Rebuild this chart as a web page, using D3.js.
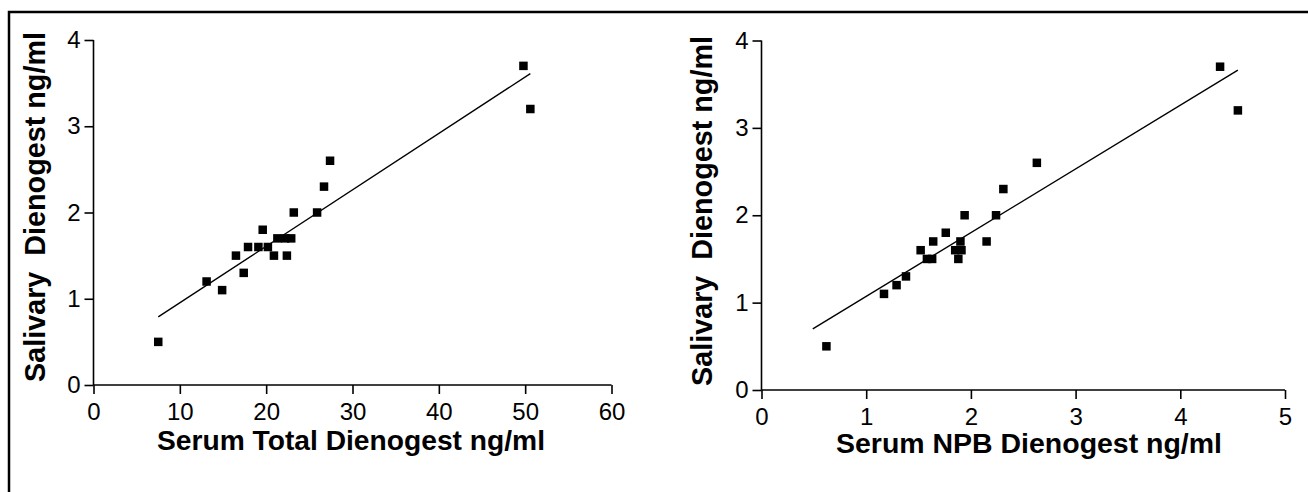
<!DOCTYPE html>
<html>
<head>
<meta charset="utf-8">
<script src="https://cdn.jsdelivr.net/npm/d3@7"></script>
<style>
  html, body { margin: 0; padding: 0; background: #fff; }
  svg { display: block; }
</style>
</head>
<body>
<svg id="chart" width="1308" height="492"></svg>
<script>
// values
const totalSerum  = [7.5, 13.1, 14.9, 16.5, 17.4, 17.9, 19.1, 19.6, 20.2, 20.9, 21.3, 22.2, 22.9, 22.4, 23.2, 25.9, 26.7, 27.4, 49.8, 50.6]
const totalSaliva = [0.5, 1.2, 1.1, 1.5, 1.3, 1.6, 1.6, 1.8, 1.6, 1.5, 1.7, 1.7, 1.7, 1.5, 2.0, 2.0, 2.3, 2.6, 3.7, 3.2]
const totalFit    = [[7.5, 0.79], [50.6, 3.61]]

const npbSerum  = [0.62, 1.17, 1.29, 1.38, 1.52, 1.58, 1.63, 1.64, 1.76, 1.85, 1.88, 1.90, 1.91, 1.94, 2.15, 2.24, 2.31, 2.63, 4.38, 4.55]
const npbSaliva = [0.5, 1.1, 1.2, 1.3, 1.6, 1.5, 1.5, 1.7, 1.8, 1.6, 1.5, 1.7, 1.6, 2.0, 1.7, 2.0, 2.3, 2.6, 3.7, 3.2]
const npbFit    = [[0.49, 0.70], [4.55, 3.66]]

const totalXTicks = [0, 10, 20, 30, 40, 50, 60]
const npbXTicks   = [0, 1, 2, 3, 4, 5]
const yTicks      = [0, 1, 2, 3, 4]

const yTitle = 'Salivary\u00a0\u00a0Dienogest ng/ml'

let svg = d3.select('#chart')

// frame round the figure (only top and left edges are inside the picture)
svg.append('path')
  .attr('d', 'M9,492V12H1308')
  .attr('fill', 'none')
  .attr('stroke', '#000')
  .attr('stroke-width', 2.5)

function drawPanel(p) {
  let x = d3.scaleLinear().domain([0, p.xTicks[p.xTicks.length - 1]]).range([p.left, p.right])
  let y = d3.scaleLinear().domain([0, 4]).range([p.bottom, p.top])

  let g = svg.append('g')

  let xAxis = g.append('g')
    .attr('transform', `translate(0,${p.bottom})`)
    .call(d3.axisBottom(x).tickValues(p.xTicks).tickSize(9).tickPadding(9).tickFormat(d3.format('d')))
  let yAxis = g.append('g')
    .attr('transform', `translate(${p.left},0)`)
    .call(d3.axisLeft(y).tickValues(yTicks).tickSize(9).tickPadding(4).tickFormat(d3.format('d')))

  ;[xAxis, yAxis].forEach(a => {
    a.selectAll('line').attr('stroke-width', 1.6)
    a.selectAll('text')
      .attr('font-family', 'Liberation Sans, Arial, sans-serif')
      .attr('font-size', 24)
      .attr('fill', '#000')
  })
  // plain axis lines without end caps
  xAxis.select('.domain').attr('stroke-width', 1.6).attr('d', `M${p.left},0H${p.right}`)
  yAxis.select('.domain').attr('stroke-width', 1.6).attr('d', `M0,${p.bottom}V${p.top}`)

  // fitted line
  g.append('line')
    .attr('x1', x(p.fit[0][0])).attr('y1', y(p.fit[0][1]))
    .attr('x2', x(p.fit[1][0])).attr('y2', y(p.fit[1][1]))
    .attr('stroke', '#000')
    .attr('stroke-width', 1.4)

  // points
  const s = 8.5
  g.append('g').selectAll('rect')
    .data(p.xs.map((v, i) => [v, p.ys[i]]))
    .enter()
    .append('rect')
    .attr('x', d => x(d[0]) - s / 2)
    .attr('y', d => y(d[1]) - s / 2)
    .attr('width', s)
    .attr('height', s)
    .attr('fill', '#000')

  // titles
  g.append('text')
    .attr('x', p.xTitle[0])
    .attr('y', p.xTitle[1])
    .attr('text-anchor', 'middle')
    .attr('font-family', 'Liberation Sans, Arial, sans-serif')
    .attr('font-weight', 'bold')
    .attr('font-size', 27)
    .attr('textLength', p.xTitleLen)
    .attr('lengthAdjust', 'spacingAndGlyphs')
    .text(p.xLabel)

  g.append('text')
    .attr('transform', `translate(${p.yTitle[0]},${p.yTitle[1]}) rotate(-90)`)
    .attr('text-anchor', 'middle')
    .attr('font-family', 'Liberation Sans, Arial, sans-serif')
    .attr('font-weight', 'bold')
    .attr('font-size', 29)
    .attr('textLength', 350)
    .attr('lengthAdjust', 'spacingAndGlyphs')
    .text(yTitle)
}

drawPanel({
  xs: totalSerum, ys: totalSaliva, fit: totalFit, xTicks: totalXTicks,
  left: 93.5, right: 611.5, top: 40, bottom: 385,
  xLabel: 'Serum Total Dienogest ng/ml', xTitle: [351, 450], xTitleLen: 388,
  yTitle: [45, 207]
})

drawPanel({
  xs: npbSerum, ys: npbSaliva, fit: npbFit, xTicks: npbXTicks,
  left: 761.5, right: 1285, top: 40.5, bottom: 390,
  xLabel: 'Serum NPB Dienogest ng/ml', xTitle: [1029, 453], xTitleLen: 386,
  yTitle: [712, 211]
})
</script>
</body>
</html>
